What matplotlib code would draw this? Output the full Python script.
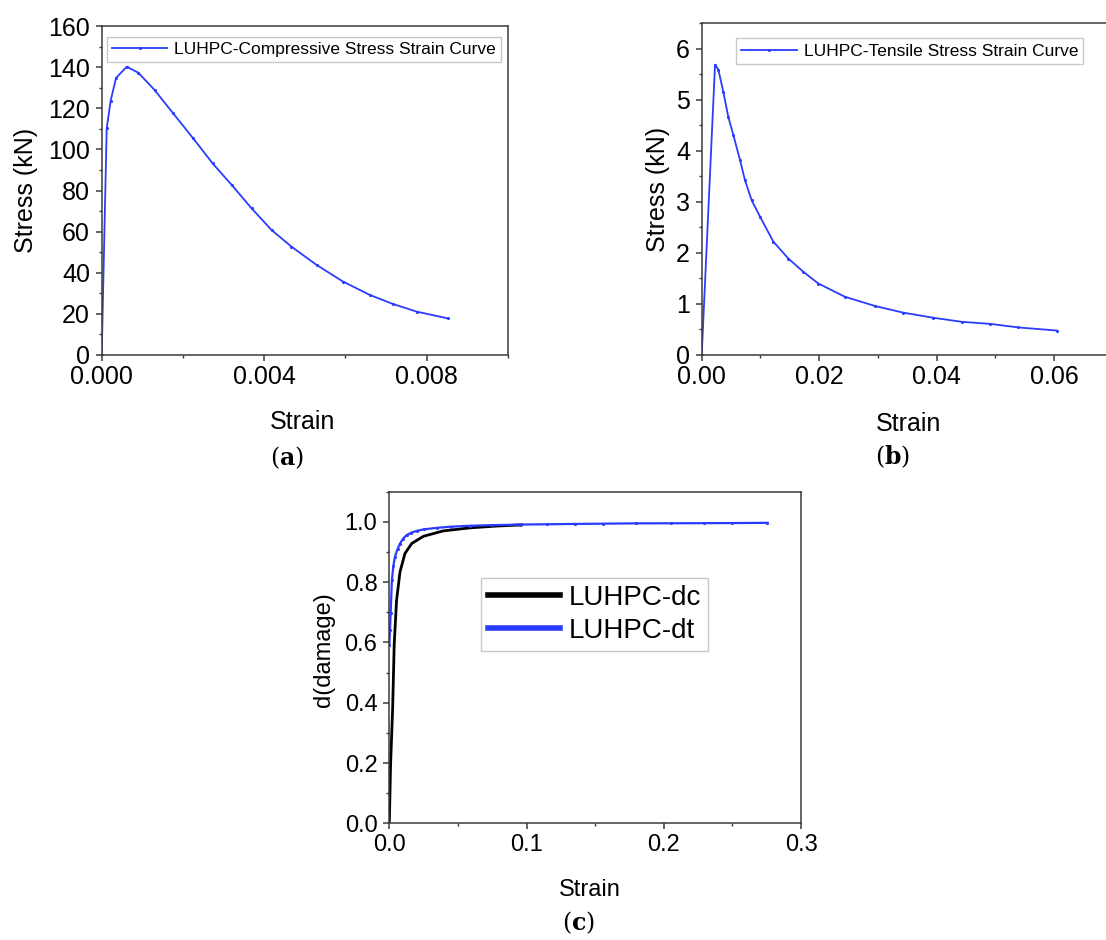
import matplotlib
matplotlib.use("Agg")
import matplotlib.pyplot as plt
from matplotlib.ticker import MultipleLocator, FormatStrFormatter

plt.rcParams['font.family'] = ['Liberation Sans', 'DejaVu Sans']
plt.rcParams['mathtext.fontset'] = 'dejavuserif'

# (a) compressive stress-strain
comp_strain = [0.0, 0.000123, 0.000221, 0.000352, 0.000615, 0.0009, 0.0013, 0.00176,
               0.00225, 0.00273, 0.0032, 0.00369, 0.00418, 0.00467, 0.00529, 0.00594,
               0.0066, 0.00717, 0.00775, 0.00852]
comp_stress = [0.0, 110.2, 123.7, 134.7, 140.2, 137.3, 128.9, 117.5,
               105.4, 93.2, 82.7, 71.3, 60.8, 52.7, 43.8, 35.7,
               29.2, 24.8, 21.1, 17.8]

# (b) tensile stress-strain
tens_strain = [0.0, 0.00227, 0.00284, 0.00369, 0.00454, 0.00539, 0.00652, 0.00738,
               0.00851, 0.00993, 0.0122, 0.01475, 0.0173, 0.01986, 0.0244, 0.0295,
               0.0343, 0.0394, 0.0443, 0.0491, 0.0539, 0.0604]
tens_stress = [0.0, 5.69, 5.59, 5.15, 4.66, 4.31, 3.82, 3.42,
               3.03, 2.71, 2.22, 1.89, 1.63, 1.40, 1.14, 0.96,
               0.83, 0.73, 0.65, 0.61, 0.54, 0.48]

# (c) damage curves
dc_strain = [0.0, 0.00097, 0.0024, 0.0036, 0.0053, 0.0078, 0.0114, 0.0163, 0.0248,
             0.0393, 0.0587, 0.078, 0.0964]
dc_value = [0.0, 0.20, 0.376, 0.597, 0.74, 0.834, 0.895, 0.928, 0.952,
            0.970, 0.980, 0.986, 0.990]
dt_strain = [0.0, 0.0005, 0.00097, 0.0019, 0.003, 0.0041, 0.006, 0.0078, 0.010, 0.0126,
             0.016, 0.0199, 0.025, 0.0345, 0.045, 0.0587, 0.075, 0.095, 0.115, 0.135,
             0.156, 0.18, 0.205, 0.229, 0.25, 0.2755]
dt_value = [0.59, 0.64, 0.696, 0.807, 0.855, 0.884, 0.910, 0.928, 0.944, 0.956,
            0.964, 0.970, 0.975, 0.980, 0.984, 0.987, 0.989, 0.991, 0.992, 0.993,
            0.994, 0.995, 0.9953, 0.9956, 0.996, 0.9967]

BLUE = '#2a3cff'
SPINE = '#3a3a3a'
W, H = 1106, 940

fig = plt.figure(figsize=(W / 100, H / 100), dpi=100)


def px_axes(left, top, right, bottom):
    return fig.add_axes([left / W, 1 - bottom / H, (right - left) / W, (bottom - top) / H])


def style(ax, fs, right_spine=True):
    for s in ax.spines.values():
        s.set_color(SPINE)
        s.set_linewidth(1.1)
    if not right_spine:
        ax.spines['right'].set_visible(False)
    ax.tick_params(which='major', direction='out', length=4.5, width=1.1, color=SPINE,
                   labelsize=fs, pad=3)
    ax.tick_params(which='minor', direction='out', length=2.5, width=1.0, color=SPINE)
    ax.tick_params(axis='y', which='major', pad=4)


# panel (a)
ax1 = px_axes(101.7, 26, 508, 355)
ax1.plot(comp_strain, comp_stress, color=BLUE, lw=1.3, marker='.', ms=2.5,
         label='LUHPC-Compressive Stress Strain Curve')
ax1.set_xlim(0, 0.01)
ax1.set_ylim(0, 160)
ax1.xaxis.set_major_locator(MultipleLocator(0.004))
ax1.xaxis.set_minor_locator(MultipleLocator(0.002))
ax1.xaxis.set_major_formatter(FormatStrFormatter('%.3f'))
ax1.yaxis.set_major_locator(MultipleLocator(20))
ax1.yaxis.set_minor_locator(MultipleLocator(10))
style(ax1, 18)
ax1.set_xlabel('Strain', fontsize=18)
ax1.set_ylabel('Stress (kN)', fontsize=18)
ax1.xaxis.set_label_coords(0.495, -0.167)
ax1.yaxis.set_label_coords(-0.157, 0.5)
leg = ax1.legend(loc='upper left', bbox_to_anchor=(0.012, 0.968), fontsize=12.5,
                 fancybox=False, edgecolor='#c8c8c8', framealpha=1, borderpad=0.3,
                 handlelength=3.2, handletextpad=0.4, borderaxespad=0)
leg.get_frame().set_linewidth(1.0)

# panel (b)
ax2 = px_axes(701.7, 23.3, 1113, 355)
ax2.plot(tens_strain, tens_stress, color=BLUE, lw=1.3, marker='.', ms=2.5,
         label='LUHPC-Tensile Stress Strain Curve')
ax2.set_xlim(0, 0.07)
ax2.set_ylim(0, 6.5)
ax2.xaxis.set_major_locator(MultipleLocator(0.02))
ax2.xaxis.set_minor_locator(MultipleLocator(0.01))
ax2.xaxis.set_major_formatter(FormatStrFormatter('%.2f'))
ax2.yaxis.set_major_locator(MultipleLocator(1))
ax2.yaxis.set_minor_locator(MultipleLocator(0.5))
style(ax2, 18, right_spine=False)
ax2.set_xlabel('Strain', fontsize=18)
ax2.set_ylabel('Stress (kN)', fontsize=18)
ax2.xaxis.set_label_coords(0.502, -0.172)
ax2.yaxis.set_label_coords(-0.077, 0.5)
leg = ax2.legend(loc='upper left', bbox_to_anchor=(0.083, 0.955), fontsize=12.5,
                 fancybox=False, edgecolor='#c8c8c8', framealpha=1, borderpad=0.3,
                 handlelength=3.2, handletextpad=0.4, borderaxespad=0)
leg.get_frame().set_linewidth(1.0)

# panel (c)
ax3 = px_axes(389.3, 491.7, 801, 823.3)
ax3.plot(dc_strain, dc_value, color='black', lw=2.0, label='LUHPC-dc')
ax3.plot(dt_strain, dt_value, color=BLUE, lw=1.6, marker='.', ms=2.5, label='LUHPC-dt')
ax3.set_xlim(0, 0.3)
ax3.set_ylim(0, 1.1)
ax3.xaxis.set_major_locator(MultipleLocator(0.1))
ax3.xaxis.set_minor_locator(MultipleLocator(0.05))
ax3.xaxis.set_major_formatter(FormatStrFormatter('%.1f'))
ax3.yaxis.set_major_locator(MultipleLocator(0.2))
ax3.yaxis.set_minor_locator(MultipleLocator(0.1))
ax3.yaxis.set_major_formatter(FormatStrFormatter('%.1f'))
style(ax3, 17)
ax3.set_xlabel('Strain', fontsize=17)
ax3.set_ylabel('d(damage)', fontsize=17)
ax3.xaxis.set_label_coords(0.4875, -0.168)
ax3.yaxis.set_label_coords(-0.132, 0.523)
leg = ax3.legend(loc='upper left', bbox_to_anchor=(0.223, 0.74), fontsize=20,
                 fancybox=False, edgecolor='#c8c8c8', framealpha=1, borderpad=0.25,
                 handlelength=2.6, handletextpad=0.3, borderaxespad=0, labelspacing=0.25)
leg.get_frame().set_linewidth(1.0)
for line in leg.get_lines():
    line.set_linewidth(4)
    line.set_marker('')

# panel letters
for x, y, s in [(287, 458, 'a'), (893, 457, 'b'), (578, 923, 'c')]:
    fig.text(x / W, 1 - y / H, r'$(\mathbf{%s})$' % s, fontsize=17, ha='center', va='center')

fig.savefig('out.png', dpi=100)
